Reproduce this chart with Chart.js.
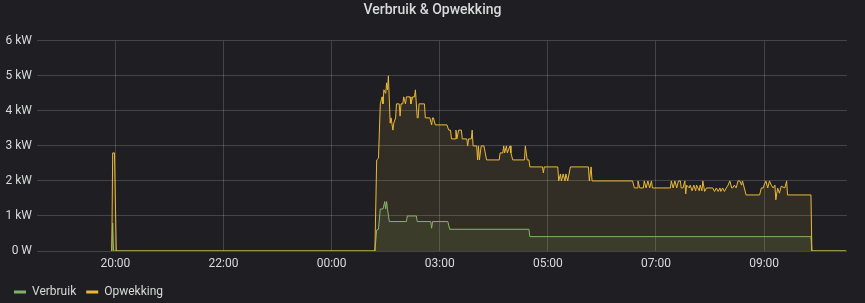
<!DOCTYPE html>
<html>
<head>
<meta charset="utf-8">
<script src="https://cdn.jsdelivr.net/npm/chart.js@4"></script>
<style>
  html, body { margin: 0; padding: 0; background: #1f1f23; }
  #wrap { width: 865px; height: 303px; }
</style>
</head>
<body>
<div id="wrap"><canvas id="chart" width="865" height="303"></canvas></div>
<script>
// tijd in minuten sinds 20:00, waarden in kW
const opwekkingTijd = [-4, -3, -1, 1, 288, 290, 292, 294, 296, 297, 298, 300, 301, 302, 303, 305, 306, 308, 309, 311,
  312, 315, 316, 317, 319, 320, 322, 323, 327, 328, 330, 332, 333, 335, 336, 337, 343, 344, 349, 351,
  352, 353, 355, 368, 370, 372, 373, 377, 378, 379, 381, 384, 385, 390, 391, 392, 395, 396, 397, 401,
  402, 403, 404, 406, 409, 412, 426, 427, 430, 431, 432, 434, 435, 438, 439, 441, 454, 455, 457, 459,
  460, 474, 475, 476, 491, 492, 494, 495, 497, 499, 500, 502, 505, 525, 526, 528, 529, 574, 576, 579,
  580, 582, 586, 587, 589, 591, 593, 595, 596, 616, 617, 619, 621, 623, 625, 627, 628, 630, 632, 633,
  634, 637, 638, 640, 642, 644, 645, 648, 649, 651, 652, 654, 656, 663, 665, 667, 669, 671, 672, 674,
  676, 678, 680, 682, 684, 685, 687, 689, 691, 693, 695, 696, 698, 700, 715, 717, 719, 720, 722, 724,
  726, 728, 730, 732, 733, 735, 737, 739, 743, 745, 746, 772, 773, 811];
const opwekking = [0, 2.8, 2.8, 0, 0, 2.6, 2.65, 4.2, 4.4, 4.2, 4.6, 4.5, 4.8, 4.6, 5.0, 3.65, 3.8, 3.45, 3.65, 3.8,
  4.2, 4.2, 3.85, 4.2, 4.2, 4.4, 4.2, 4.4, 4.4, 4.2, 4.4, 4.4, 4.6, 3.8, 3.8, 4.2, 4.2, 3.8, 3.8, 3.6,
  3.8, 3.8, 3.6, 3.6, 3.45, 3.45, 3.2, 3.2, 3.45, 3.2, 3.45, 3.45, 3.2, 3.2, 3.0, 3.2, 3.2, 3.45, 3.0, 3.0,
  2.6, 3.0, 2.6, 3.0, 3.0, 2.6, 2.6, 2.8, 2.8, 3.0, 2.8, 3.0, 2.8, 3.0, 2.8, 2.6, 2.6, 3.0, 2.6, 2.6,
  2.4, 2.4, 2.23, 2.4, 2.4, 2.0, 2.2, 2.0, 2.2, 2.0, 2.2, 2.0, 2.4, 2.4, 2.0, 2.4, 2.0, 2.0, 1.8, 1.8,
  2.0, 1.8, 1.8, 2.0, 1.8, 2.0, 1.8, 2.0, 1.8, 1.8, 2.0, 1.8, 2.0, 1.8, 2.0, 2.0, 1.8, 1.8, 2.0, 1.63,
  1.88, 1.8, 1.88, 1.72, 1.88, 1.72, 1.88, 1.72, 1.88, 1.72, 2.0, 1.7, 1.8, 1.8, 1.7, 1.8, 1.7, 1.8, 1.7, 1.8,
  1.7, 1.8, 1.88, 2.0, 1.8, 1.8, 1.88, 1.8, 2.0, 2.0, 1.88, 2.0, 1.8, 1.6, 1.6, 1.8, 1.8, 1.88, 2.0, 1.8,
  2.0, 1.88, 1.8, 1.88, 1.46, 1.8, 1.65, 1.85, 1.8, 2.0, 1.6, 1.6, 0, 0];

const verbruikTijd = [-4, -3, -2, 1, 288, 290, 292, 294, 297, 299, 300, 301, 302, 304, 323, 324, 334, 335, 350, 351,
  352, 369, 371, 459, 460, 772, 773, 811];
const verbruik = [0, 0.8, 0, 0, 0, 0.6, 0.62, 1.2, 1.2, 1.41, 1.2, 1.41, 1.2, 0.84, 0.84, 1.0, 1.0, 0.84, 0.84, 0.65,
  0.84, 0.84, 0.62, 0.62, 0.41, 0.41, 0, 0];

const tijdTicks = [0, 120, 240, 360, 480, 600, 720];
const tijdLabels = ['20:00', '22:00', '00:00', '03:00', '05:00', '07:00', '09:00'];
const vermogenTicks = [0, 1, 2, 3, 4, 5, 6];

const GROEN = '#7EB26D';
const GEEL = '#EAB839';
const tekstKleur = '#d8d9da';
const rasterKleur = 'rgba(255,255,255,0.17)';

const punten = (tijd, waarden) => tijd.map((t, i) => ({ x: t, y: waarden[i] }));

new Chart(document.getElementById('chart'), {
    type: 'line',
    data: {
        datasets: [
            {
                label: 'Opwekking',
                data: punten(opwekkingTijd, opwekking),
                borderColor: GEEL,
                backgroundColor: 'rgba(234,184,57,0.1)',
                fill: 'origin',
                borderWidth: 1,
                pointRadius: 0,
                tension: 0
            },
            {
                label: 'Verbruik',
                data: punten(verbruikTijd, verbruik),
                borderColor: GROEN,
                backgroundColor: 'rgba(126,178,109,0.1)',
                fill: 'origin',
                borderWidth: 1,
                pointRadius: 0,
                tension: 0
            }
        ]
    },
    options: {
        responsive: false,
        animation: false,
        layout: { padding: { left: 4, right: 4, top: 0, bottom: -5 } },
        plugins: {
            title: {
                display: true,
                text: 'Verbruik & Opwekking',
                color: tekstKleur,
                font: { family: 'Roboto', size: 14, weight: '500' },
                padding: { top: 2, bottom: 22 }
            },
            legend: {
                position: 'bottom',
                align: 'start',
                reverse: true,
                labels: {
                    color: tekstKleur,
                    font: { family: 'Roboto', size: 12 },
                    boxWidth: 12,
                    boxHeight: 3,
                    padding: 10,
                    // gevulde streepjes i.p.v. lege vakjes
                    generateLabels: (chart) => {
                        const items = Chart.defaults.plugins.legend.labels.generateLabels(chart);
                        items.forEach(it => { it.fillStyle = it.strokeStyle; it.lineWidth = 0; });
                        return items;
                    }
                }
            },
            tooltip: { enabled: false }
        },
        scales: {
            x: {
                type: 'linear',
                min: -87,
                max: 812,
                afterBuildTicks: (scale) => {
                    scale.ticks = tijdTicks.map(v => ({ value: v }));
                },
                afterFit: (scale) => { scale.height = 25; },
                ticks: {
                    color: tekstKleur,
                    font: { family: 'Roboto', size: 12 },
                    padding: 6,
                    maxRotation: 0,
                    autoSkip: false,
                    callback: (v) => tijdLabels[tijdTicks.indexOf(v)]
                },
                grid: { color: rasterKleur, drawTicks: false },
                border: { display: false }
            },
            y: {
                min: 0,
                max: 6,
                afterBuildTicks: (scale) => {
                    scale.ticks = vermogenTicks.map(v => ({ value: v }));
                },
                afterFit: (scale) => { scale.width = 33; },
                ticks: {
                    color: tekstKleur,
                    font: { family: 'Roboto', size: 12 },
                    padding: 5,
                    callback: (v) => v === 0 ? '0 W' : v + ' kW'
                },
                grid: { color: rasterKleur, drawTicks: false },
                border: { display: false }
            },
            // lege as rechts, alleen voor ruimte
            rechts: {
                position: 'right',
                min: 0,
                max: 6,
                afterFit: (scale) => { scale.width = 14; },
                ticks: { display: false },
                grid: { display: false, drawTicks: false },
                border: { display: false }
            }
        }
    }
});
</script>
</body>
</html>
